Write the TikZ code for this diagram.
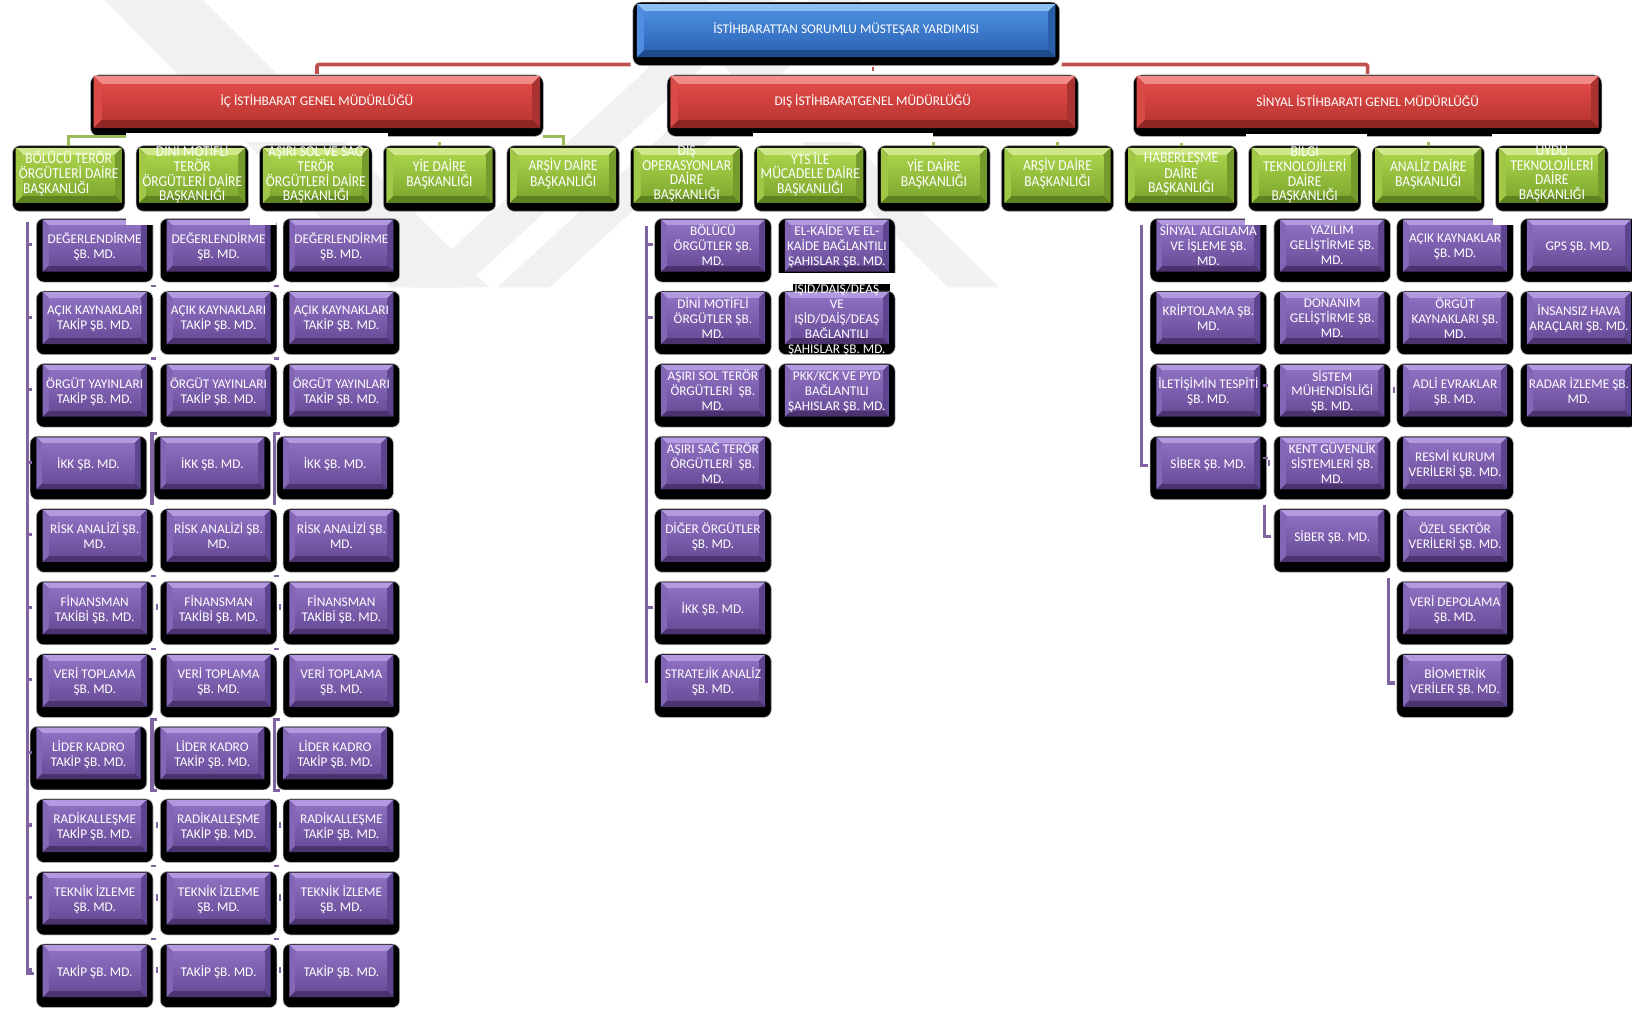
\documentclass[tikz,border=0pt]{standalone}
\usepackage{fontspec}
\setmainfont{Carlito}
\newfontfamily\gfont[FakeStretch=0.9]{Carlito}
\usetikzlibrary{calc}
\definecolor{wm}{RGB}{241,241,241}
\definecolor{pT}{HTML}{B39AE0}
\definecolor{pB}{HTML}{4B3370}
\definecolor{pL}{HTML}{8466B6}
\definecolor{pR}{HTML}{5E4590}
\definecolor{pF1}{HTML}{8D6FC0}
\definecolor{pF2}{HTML}{6A4E9A}
\definecolor{gT}{HTML}{CFE98A}
\definecolor{gB}{HTML}{5E8220}
\definecolor{gL}{HTML}{A0C846}
\definecolor{gR}{HTML}{759B2C}
\definecolor{gF1}{HTML}{A9D24A}
\definecolor{gF2}{HTML}{80AA30}
\definecolor{rT}{HTML}{F28A86}
\definecolor{rB}{HTML}{8E2624}
\definecolor{rL}{HTML}{DA4A46}
\definecolor{rR}{HTML}{AA3230}
\definecolor{rF1}{HTML}{E04A46}
\definecolor{rF2}{HTML}{BC3734}
\definecolor{bT}{HTML}{8CC0F4}
\definecolor{bB}{HTML}{1E4A8E}
\definecolor{bL}{HTML}{4F8EE0}
\definecolor{bR}{HTML}{2B5EA8}
\definecolor{bF1}{HTML}{4A8CDC}
\definecolor{bF2}{HTML}{2E66B8}
\definecolor{pline}{HTML}{8064A2}
\definecolor{gline}{HTML}{9BBB59}
\definecolor{rline}{HTML}{C0504D}
\tikzset{
  ptext/.style={text=white, align=center, inner sep=0pt,
    font=\fontsize{12.8}{14.4}\selectfont,
    execute at begin node=\strut, execute at end node=\strut},
  gtext/.style={text=white, align=center, inner sep=0pt,
    font=\gfont\fontsize{14.5}{14.2}\selectfont,
    execute at begin node=\strut, execute at end node=\strut},
  htext/.style={text=white, inner sep=0pt, font=\fontsize{12.8}{14}\selectfont},
  pconn/.style={draw=pline, line width=3pt},
  ptick/.style={draw=pline, line width=2pt},
  gconn/.style={draw=gline, line width=3pt},
  rconn/.style={draw=rline, line width=3.5pt, rounded corners=2pt},
  shadowbox/.style={fill=black, draw=black!30, line width=0.6pt, rounded corners=7pt}
}
\newcommand{\bevface}[6]{%
  \pgfmathsetmacro\bvx{#1}\pgfmathsetmacro\bvy{#2}%
  \pgfmathsetmacro\bvw{#3}\pgfmathsetmacro\bvh{#4}\pgfmathsetmacro\bvb{#5}%
  \pgfmathsetmacro\bvxr{\bvx+\bvw}\pgfmathsetmacro\bvyb{\bvy+\bvh}%
  \pgfmathsetmacro\bvxi{\bvx+\bvb}\pgfmathsetmacro\bvyi{\bvy+\bvb}%
  \pgfmathsetmacro\bvxo{\bvxr-\bvb}\pgfmathsetmacro\bvyo{\bvyb-\bvb}%
  \fill[#6T] (\bvx,\bvy) -- (\bvxr,\bvy) -- (\bvxo,\bvyi) -- (\bvxi,\bvyi) -- cycle;
  \fill[#6B] (\bvx,\bvyb) -- (\bvxr,\bvyb) -- (\bvxo,\bvyo) -- (\bvxi,\bvyo) -- cycle;
  \fill[#6L] (\bvx,\bvy) -- (\bvxi,\bvyi) -- (\bvxi,\bvyo) -- (\bvx,\bvyb) -- cycle;
  \fill[#6R] (\bvxr,\bvy) -- (\bvxo,\bvyi) -- (\bvxo,\bvyo) -- (\bvxr,\bvyb) -- cycle;
  \shade[top color=#6F1,bottom color=#6F2] (\bvxi,\bvyi) rectangle (\bvxo,\bvyo);
}
% purple box: name, x, y (top-left of shadow), text
\newcommand{\purp}[4]{%
  \pgfmathsetmacro\pvx{#2}\pgfmathsetmacro\pvy{#3}%
  \fill[shadowbox] (\pvx,\pvy) rectangle ({\pvx+112},{\pvy+61});
  \bevface{\pvx+6}{\pvy+1}{100}{50}{6}{p}
  \node[ptext] (#1) at ({\pvx+56},{\pvy+28}) {#4};
  \coordinate (#1-l) at (\pvx,{\pvy+25});
}
% green box: name, x, text
\newcommand{\grn}[3]{%
  \pgfmathsetmacro\gvx{#2}%
  \fill[shadowbox] (\gvx,140) rectangle ({\gvx+108},203);
  \bevface{\gvx+3}{142}{102}{53}{7}{g}
  \node[gtext] (#1) at ({\gvx+54},168) {#3};
  \coordinate (#1-t) at ({\gvx+54},140);
}
% red box: name, x1, x2, text
\newcommand{\redb}[4]{%
  \fill[shadowbox, rounded corners=8pt] (#2,72) rectangle (#3,131);
  \bevface{#2+3}{73}{#3-#2-6}{50}{8}{r}
  \node[htext] (#1) at ({(#2+#3)/2},97) {#4};
  \coordinate (#1-t) at ({(#2+#3)/2},72);
}
\begin{document}
\begin{tikzpicture}[x=1pt,y=-1pt]
\useasboundingbox (0,0) rectangle (1568,972);
\clip (0,0) rectangle (1568,972);
\fill[white] (0,0) rectangle (1568,972);
% watermark
\fill[wm] (100,0) -- (195,0) -- (470,276) -- (375,276) -- cycle;
\fill[wm] (394,276) -- (445,276) -- (745,0) -- (694,0) -- cycle;
\fill[wm] (478,276) -- (528,276) -- (828,0) -- (778,0) -- cycle;
\fill[wm] (631,0) -- (680,0) -- (960,276) -- (911,276) -- cycle;

% top box
\fill[shadowbox, rounded corners=8pt] (608,2) rectangle (1018,63);
\bevface{612}{4}{402}{51}{7}{b}
\node[htext] (top) at (813,28) {İSTİHBARATTAN SORUMLU MÜSTEŞAR YARDIMISI};
\coordinate (top-sw) at (606,62);
\coordinate (top-se) at (1020,62);

% general directorates
\redb{ic}{87}{522}{İÇ İSTİHBARAT GENEL MÜDÜRLÜĞÜ}
\redb{dis}{641}{1036}{DIŞ İSTİHBARATGENEL MÜDÜRLÜĞÜ}
\redb{sig}{1089}{1539}{SİNYAL İSTİHBARATI GENEL MÜDÜRLÜĞÜ}

% departments
\grn{g1}{12}{BÖLÜCÜ TERÖR\\ÖRGÜTLERİ DAİRE\\BAŞKANLIĞI\hspace*{24pt}}
\grn{g2}{130.75}{DİNİ MOTİFLİ\\TERÖR\\ÖRGÜTLERİ DAİRE\\BAŞKANLIĞI}
\grn{g3}{249.5}{AŞIRI SOL VE SAĞ\\TERÖR\\ÖRGÜTLERİ DAİRE\\BAŞKANLIĞI}
\grn{g4}{368.25}{YİE DAİRE\\BAŞKANLIĞI}
\grn{g5}{487}{ARŞİV DAİRE\\BAŞKANLIĞI}
\grn{g6}{605.75}{DIŞ\\OPERASYONLAR\\DAİRE\\BAŞKANLIĞI}
\grn{g7}{724.5}{YTS İLE\\MÜCADELE DAİRE\\BAŞKANLIĞI}
\grn{g8}{843.25}{YİE DAİRE\\BAŞKANLIĞI}
\grn{g9}{962}{ARŞİV DAİRE\\BAŞKANLIĞI}
\grn{g10}{1080.75}{HABERLEŞME\\DAİRE\\BAŞKANLIĞI}
\grn{g11}{1199.5}{BİLGİ\\TEKNOLOJİLERİ\\DAİRE\\BAŞKANLIĞI}
\grn{g12}{1318.25}{ANALİZ DAİRE\\BAŞKANLIĞI}
\grn{g13}{1437}{UYDU\\TEKNOLOJİLERİ\\DAİRE\\BAŞKANLIĞI}

% internal intelligence branches
\foreach \c/\cx in {A/35,B/154,C/272}{
  \purp{\c1}{\cx}{210}{DEĞERLENDİRME\\ŞB. MD.}
  \purp{\c2}{\cx}{279.7}{AÇIK KAYNAKLARI\\TAKİP ŞB. MD.}
  \purp{\c3}{\cx}{349.4}{ÖRGÜT YAYINLARI\\TAKİP ŞB. MD.}
  \purp{\c4}{\cx-6}{419.1}{İKK ŞB. MD.}
  \purp{\c5}{\cx}{488.8}{RİSK ANALİZİ ŞB.\\MD.}
  \purp{\c6}{\cx}{558.5}{FİNANSMAN\\TAKİBİ ŞB. MD.}
  \purp{\c7}{\cx}{628.2}{VERİ TOPLAMA\\ŞB. MD.}
  \purp{\c8}{\cx-6}{697.9}{LİDER KADRO\\TAKİP ŞB. MD.}
  \purp{\c9}{\cx}{767.6}{RADİKALLEŞME\\TAKİP ŞB. MD.}
  \purp{\c10}{\cx}{837.3}{TEKNİK İZLEME\\ŞB. MD.}
  \purp{\c11}{\cx}{907}{TAKİP ŞB. MD.}
}

% external intelligence branches
\purp{D1}{629}{210}{BÖLÜCÜ\\ÖRGÜTLER ŞB.\\MD.}
\purp{D2}{629}{279.7}{DİNİ MOTİFLİ\\ÖRGÜTLER ŞB.\\MD.}
\purp{D3}{629}{349.4}{AŞIRI SOL TERÖR\\ÖRGÜTLERİ\ \ ŞB.\\MD.}
\purp{D4}{629}{419.1}{AŞIRI SAĞ TERÖR\\ÖRGÜTLERİ\ \ ŞB.\\MD.}
\purp{D5}{629}{488.8}{DİĞER ÖRGÜTLER\\ŞB. MD.}
\purp{D6}{629}{558.5}{İKK ŞB. MD.}
\purp{D7}{629}{628.2}{STRATEJİK ANALİZ\\ŞB. MD.}
\fill[black] (762,273) rectangle (855,286);
\purp{E1}{748}{210}{EL-KAİDE VE EL-\\KAİDE BAĞLANTILI\\ŞAHISLAR ŞB. MD.}
\purp{E2}{748}{279.7}{IŞİD/DAİŞ/DEAŞ\\VE\\IŞİD/DAİŞ/DEAŞ\\BAĞLANTILI\\ŞAHISLAR ŞB. MD.}
\purp{E3}{748}{349.4}{PKK/KCK VE PYD\\BAĞLANTILI\\ŞAHISLAR ŞB. MD.}

% signal intelligence branches
\purp{S11}{1105}{210}{SİNYAL ALGILAMA\\VE İŞLEME ŞB.\\MD.}
\purp{S12}{1105}{279.7}{KRİPTOLAMA ŞB.\\MD.}
\purp{S13}{1105}{349.4}{İLETİŞİMİN TESPİTİ\\ŞB. MD.}
\purp{S14}{1105}{419.1}{SİBER ŞB. MD.}
\purp{S21}{1224}{210}{YAZILIM\\GELİŞTİRME ŞB.\\MD.}
\purp{S22}{1224}{279.7}{DONANIM\\GELİŞTİRME ŞB.\\MD.}
\purp{S23}{1224}{349.4}{SİSTEM\\MÜHENDİSLİĞİ\\ŞB. MD.}
\purp{S24}{1224}{419.1}{KENT GÜVENLİK\\SİSTEMLERİ ŞB.\\MD.}
\purp{S25}{1224}{488.8}{SİBER ŞB. MD.}
\purp{S31}{1342}{210}{AÇIK KAYNAKLAR\\ŞB. MD.}
\purp{S32}{1342}{279.7}{ÖRGÜT\\KAYNAKLARI ŞB.\\MD.}
\purp{S33}{1342}{349.4}{ADLİ EVRAKLAR\\ŞB. MD.}
\purp{S34}{1342}{419.1}{RESMİ KURUM\\VERİLERİ ŞB. MD.}
\purp{S35}{1342}{488.8}{ÖZEL SEKTÖR\\VERİLERİ ŞB. MD.}
\purp{S36}{1342}{558.5}{VERİ DEPOLAMA\\ŞB. MD.}
\purp{S37}{1342}{628.2}{BİOMETRİK\\VERİLER ŞB. MD.}
\purp{S41}{1461}{210}{GPS ŞB. MD.}
\purp{S42}{1461}{279.7}{İNSANSIZ HAVA\\ARAÇLARI ŞB. MD.}
\purp{S43}{1461}{349.4}{RADAR İZLEME ŞB.\\MD.}

% white patches of the original
\fill[white] (121,128) rectangle (373,136.5);
\fill[white] (723,128) rectangle (896,136.5);
\fill[white] (1197,129) rectangle (1313,136.5);
\fill[white] (1433,129) rectangle (1545,136.5);
\fill[white] (121,209) rectangle (147.6,216);
\fill[white] (240,209) rectangle (265.6,216);
\fill[white] (1196,209) rectangle (1217.6,216);
\fill[white] (1434,209) rectangle (1454.6,216);
\fill[white] (746,262) rectangle (864,272.5);

% connectors: top to directorates
\draw[rconn] ($(ic-t)+(0,-1)$) |- (top-sw);
\draw[rconn] (top-se) -| ($(sig-t)+(0,-1)$);
\draw[rconn, line width=2pt] ($(dis-t)+(0,-8)$) -- ($(dis-t)+(0,-4)$);

% connectors: directorates to departments (visible parts)
\draw[gconn] (g1-t) -- ++(0,-9) -- ++(55,0);
\draw[gconn] (g5-t) -- ++(0,-9) -- ++(-19,0);
\foreach \g in {g4,g8,g9,g12} \draw[gconn] (\g-t) -- ++(0,-4);
\draw[gconn] (g10-t) -- ++(0,-3);

% connectors: departments to branches
\coordinate (cA) at ($(A1-l)+(-9,-22)$);
\draw[pconn] (cA) -- ($(cA |- A11-l)+(0,3)$) -- ++(7,0);
\foreach \i in {1,...,11} \draw[pconn] (cA |- A\i-l) -- ++(5,0);
\foreach \c in {B,C}{
  \draw[pconn] ($(\c4-l)+(3,-28)$) -- ($(\c4-l)+(-2,-28)$) -- ($(\c4-l)+(-2,41)$);
  \draw[pconn] ($(\c8-l)+(3,-32)$) -- ($(\c8-l)+(-2,-32)$) -- ($(\c8-l)+(-2,37)$) -- ++(5,0);
  \foreach \i in {2,3,6,7,10,11} \draw[ptick] ($(\c\i-l)+(-9,-30)$) -- ++(5,0);
  \foreach \i in {6,9,10,11} \draw[ptick] ($(\c\i-l)+(-3,-3)$) -- ++(0,6);
}
\coordinate (cD) at ($(D1-l)+(-8,-18)$);
\draw[pconn] (cD) -- ($(cD |- D7-l)+(0,3)$);
\foreach \i in {1,2,6} \draw[pconn] (cD |- D\i-l) -- ++(6,0);
\coordinate (cS) at ($(S11-l)+(-8,-19)$);
\draw[pconn] (cS) -- ($(cS |- S14-l)+(0,3)$) -- ++(6,0);
\draw[pconn] ($(S25-l)+(-9,-29)$) -- ($(S25-l)+(-9,2)$) -- ++(6,0);
\draw[pconn] ($(S36-l)+(-8,-28)$) -- ($(S37-l)+(-8,3)$) -- ++(6,0);
\draw[ptick] ($(S23-l)+(-11,-4)$) -- ++(5,0);
\draw[ptick] ($(S24-l)+(-11,-4)$) -- ++(5,0);
\draw[ptick] ($(S25-l)+(-5,-72)$) -- ++(0,6);
\draw[ptick] ($(S33-l)+(-3,-3)$) -- ++(0,6);
\end{tikzpicture}
\end{document}
